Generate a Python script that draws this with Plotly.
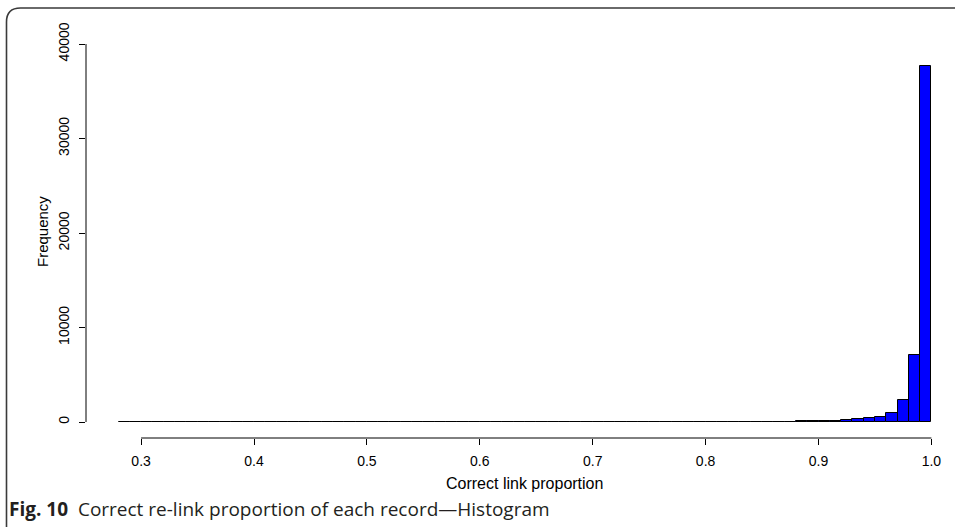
import plotly.graph_objects as go

# ---- data ----
bin_lower = [round(0.28 + 0.01 * i, 2) for i in range(72)]
counts = [
    2, 1, 2, 1, 2, 2, 1, 2, 2, 3,      # 0.28-0.37
    2, 3, 2, 3, 3, 2, 3, 4, 3, 4,      # 0.38-0.47
    4, 3, 5, 4, 5, 5, 4, 6, 5, 6,      # 0.48-0.57
    6, 7, 6, 8, 7, 8, 9, 8, 10, 9,     # 0.58-0.67
    11, 10, 12, 13, 12, 14, 15, 16, 18, 17,  # 0.68-0.77
    20, 22, 24, 26, 30, 34, 38, 42, 46, 50,  # 0.78-0.87
    55, 110, 130, 150, 200, 280, 410, 520, 1000, 2300,  # 0.88-0.97
    7050, 37650,                       # 0.98-0.99
]
x_ticks = [0.3, 0.4, 0.5, 0.6, 0.7, 0.8, 0.9, 1.0]
x_tick_text = ["0.3", "0.4", "0.5", "0.6", "0.7", "0.8", "0.9", "1.0"]
y_ticks = [0, 10000, 20000, 30000, 40000]
y_tick_text = ["0", "10000", "20000", "30000", "40000"]
x_title = "Correct link proportion"
y_title = "Frequency"
caption_bold = "Fig. 10"
caption_text = "Correct re-link proportion of each record—Histogram"

bin_width = 0.01
centers = [b + bin_width / 2 for b in bin_lower]

W, H = 955, 527
L, R, T, B = 86, 1, 10, 89
pw, ph = W - L - R, H - T - B


def px(xp):
    return (xp - L) / pw


def py(yp):
    return (H - B - yp) / ph


fig = go.Figure()
fig.add_trace(go.Bar(
    x=centers, y=counts, width=bin_width,
    marker=dict(color="#0000FF", line=dict(color="#000000", width=1)),
    hoverinfo="x+y", showlegend=False,
))

fam = "Liberation Sans, Arial, sans-serif"
tick_font = dict(family=fam, size=14, color="#000000")

fig.update_layout(
    width=W, height=H,
    margin=dict(l=L, r=R, t=T, b=B, pad=0),
    paper_bgcolor="#FFFFFF", plot_bgcolor="#FFFFFF",
    bargap=0,
    xaxis=dict(
        range=[0.2512, 0.2512 + pw / 1129.0], tickvals=x_ticks, ticktext=x_tick_text,
        ticks="outside", ticklen=6, tickcolor="#000000", tickwidth=1,
        showgrid=False, zeroline=False, showline=False,
        tickfont=tick_font, ticklabelstandoff=4,
    ),
    yaxis=dict(
        range=[-1693, 43598], tickvals=y_ticks, ticktext=y_tick_text,
        ticks="outside", ticklen=6, tickcolor="#000000", tickwidth=1,
        showgrid=False, zeroline=False, showline=False,
        tickangle=-90, tickfont=tick_font, ticklabelstandoff=4,
    ),
    shapes=[
        dict(type="line", xref="x", yref="paper", x0=x_ticks[0], x1=x_ticks[-1], y0=0, y1=0,
             line=dict(color="#000000", width=1)),
        dict(type="line", xref="paper", yref="y", x0=0, x1=0, y0=y_ticks[0], y1=y_ticks[-1],
             line=dict(color="#000000", width=1)),
        dict(type="path", xref="paper", yref="paper",
             path=(f"M {px(6.5)},{py(560)} L {px(6.5)},{py(22)} "
                   f"Q {px(6.5)},{py(8)} {px(20.5)},{py(8)} L {px(990)},{py(8)}"),
             line=dict(color="#3a3a3a", width=1.6)),
    ],
    annotations=[
        dict(text=y_title, xref="paper", yref="paper", x=px(42), y=py(232),
             textangle=-90, showarrow=False, xanchor="center", yanchor="middle",
             font=dict(family=fam, size=15, color="#000000")),
        dict(text=x_title, xref="paper", yref="paper", x=px(524.5), y=py(483),
             showarrow=False, xanchor="center", yanchor="middle",
             font=dict(family=fam, size=16, color="#000000")),
        dict(text=f"<b>{caption_bold}</b>  {caption_text}", xref="paper", yref="paper",
             x=px(7), y=py(509), showarrow=False, xanchor="left", yanchor="middle",
             font=dict(family="Open Sans, sans-serif", size=19, color="#231F20")),
    ],
)

fig.write_html("out.html")
